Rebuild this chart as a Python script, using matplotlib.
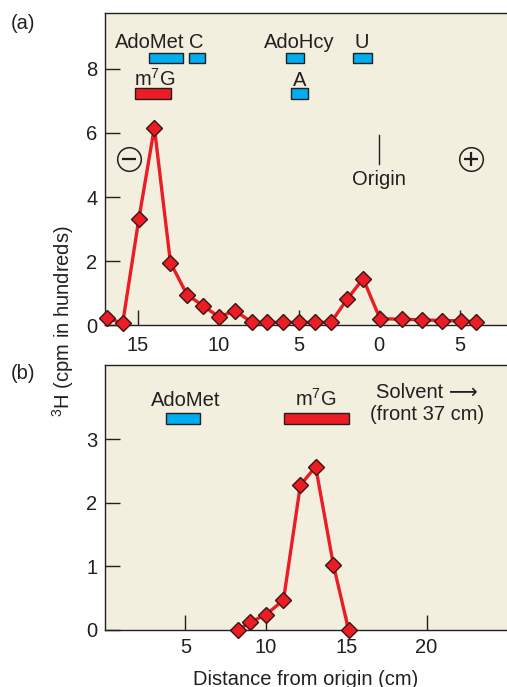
import numpy as np
import matplotlib
matplotlib.use("Agg")
import matplotlib.pyplot as plt

plt.rcParams['font.family'] = ['Liberation Sans', 'DejaVu Sans']
plt.rcParams['mathtext.fontset'] = 'custom'
plt.rcParams['mathtext.rm'] = 'Liberation Sans'
plt.rcParams['mathtext.it'] = 'Liberation Sans:italic'

#------------------------------------------------------------------------------
# dati

# (a) elettroforesi: posizione con segno (negativo = verso il catodo)
pos_a = [-16.95, -15.95, -14.95, -13.98, -12.98, -11.95, -10.95, -9.95, -8.98,
         -7.9, -6.95, -5.95, -4.97, -3.98, -3.0, -2.0, -1.0, 0.05, 1.4, 2.65,
         3.9, 5.1, 6.0]
cpm_a = [0.22, 0.06, 3.3, 6.17, 1.95, 0.95, 0.6, 0.25, 0.45, 0.08, 0.08, 0.08,
         0.08, 0.08, 0.08, 0.8, 1.45, 0.2, 0.18, 0.16, 0.14, 0.13, 0.1]
xticks_a = [-15, -10, -5, 0, 5]
xticklabels_a = ['15', '10', '5', '0', '5']

# bande dei marcatori (a): nome, inizio, fine, riga, colore
spots_a = [('AdoMet', -14.29, -12.19, 'top', 'blue'),
           ('C', -11.84, -10.84, 'top', 'blue'),
           ('AdoHcy', -5.80, -4.70, 'top', 'blue'),
           ('U', -1.63, -0.42, 'top', 'blue'),
           ('m$^7$G', -15.16, -12.92, 'bottom', 'red'),
           ('A', -5.51, -4.43, 'bottom', 'blue')]
labels_a = [('AdoMet', -14.3, 'top'), ('C', -11.37, 'top'),
            ('AdoHcy', -4.97, 'top'), ('U', -1.06, 'top'),
            ('m$^7$G', -13.98, 'bottom'), ('A', -4.97, 'bottom')]

# (b) cromatografia
dist_b = [8.3, 9.0, 10.0, 11.1, 12.15, 13.1, 14.2, 15.15]
cpm_b = [0.0, 0.12, 0.24, 0.47, 2.28, 2.57, 1.03, 0.0]
spots_b = [('AdoMet', 3.79, 5.9, 'blue'), ('m$^7$G', 11.13, 15.15, 'red')]
labels_b = [('AdoMet', 5.0), ('m$^7$G', 13.1)]

#------------------------------------------------------------------------------
# stile

BG = '#F2EFDF'
INK = '#231F20'
RED = '#EC1C24'
BLUE = '#00AEEF'
FS = 14.5
colors = {'red': RED, 'blue': BLUE}

fig = plt.figure(figsize=(5.07, 6.87), dpi=100)
ax_a = fig.add_axes([0.2071, 0.5269, 0.7929, 0.4542])
ax_b = fig.add_axes([0.2071, 0.0830, 0.7929, 0.3857])


def style(ax, xpad):
    ax.set_facecolor(BG)
    ax.spines['right'].set_visible(False)
    for s in ['left', 'bottom', 'top']:
        ax.spines[s].set_color(INK)
        ax.spines[s].set_linewidth(1.0)
    ax.tick_params(direction='in', length=11, width=1.0, color=INK,
                   labelsize=FS, labelcolor=INK, right=False, top=False)
    ax.tick_params(axis='y', pad=5.5)
    ax.tick_params(axis='x', pad=xpad)


#------------------------------------------------------------------------------
# pannello (a)

style(ax_a, 8)
ax_a.set_xlim(-17.05, 7.95)
ax_a.set_ylim(0, 9.75)
ax_a.set_yticks([0, 2, 4, 6, 8])
ax_a.set_xticks(xticks_a)
ax_a.set_xticklabels(xticklabels_a)

rows_a = {'top': (8.18, 0.33), 'bottom': (7.05, 0.35)}
for name, x0, x1, row, c in spots_a:
    y0, h = rows_a[row]
    ax_a.barh(y0 + h / 2, x1 - x0, left=x0, height=h, color=colors[c],
              edgecolor=INK, linewidth=1.0, zorder=2)
base_a = {'top': 8.67, 'bottom': 7.48}
for name, xc, row in labels_a:
    ax_a.text(xc, base_a[row], name, ha='center', va='baseline',
              fontsize=FS, color=INK)

ax_a.plot(pos_a, cpm_a, color=RED, lw=2.4, marker='D', ms=8.5,
          mfc=RED, mec='#3A1515', mew=1.0, clip_on=False, zorder=4)

# origine e poli
ax_a.plot([0, 0], [5.03, 5.94], color=INK, lw=1.0)
ax_a.text(0, 4.56, 'Origin', ha='center', va='center', fontsize=FS, color=INK)
for xc, sym in [(-15.58, '_'), (5.70, '+')]:
    ax_a.plot(xc, 5.18, marker='o', ms=17, mfc='none', mec=INK, mew=1.1)
    ax_a.plot(xc, 5.18, marker=sym, ms=10, mec=INK, mew=1.6)

#------------------------------------------------------------------------------
# pannello (b)

style(ax_b, 6)
ax_b.set_xlim(0, 25)
ax_b.set_ylim(0, 4.17)
ax_b.set_yticks([0, 1, 2, 3])
ax_b.set_xticks([5, 10, 15, 20])

for name, x0, x1, c in spots_b:
    ax_b.barh(3.33, x1 - x0, left=x0, height=0.18, color=colors[c],
              edgecolor=INK, linewidth=1.0, zorder=2)
for name, xc in labels_b:
    ax_b.text(xc, 3.53, name, ha='center', va='baseline', fontsize=FS, color=INK)
ax_b.text(20, 3.65, 'Solvent \u27f6', ha='center', va='baseline',
          fontsize=FS, color=INK)
ax_b.text(20, 3.30, '(front 37 cm)', ha='center', va='baseline',
          fontsize=FS, color=INK)

ax_b.plot(dist_b, cpm_b, color=RED, lw=2.4, marker='D', ms=8.5,
          mfc=RED, mec='#3A1515', mew=1.0, clip_on=False, zorder=4)
ax_b.set_xlabel('Distance from origin (cm)', fontsize=FS, color=INK, labelpad=9)

#------------------------------------------------------------------------------
# etichette di figura

fig.text(0.124, 0.533, '$^3$H (cpm in hundreds)', rotation=90, ha='center',
         va='center', fontsize=FS, color=INK)
fig.text(0.045, 0.9665, '(a)', ha='center', va='center', fontsize=FS, color=INK)
fig.text(0.045, 0.457, '(b)', ha='center', va='center', fontsize=FS, color=INK)

fig.savefig('out.png', dpi=100)
